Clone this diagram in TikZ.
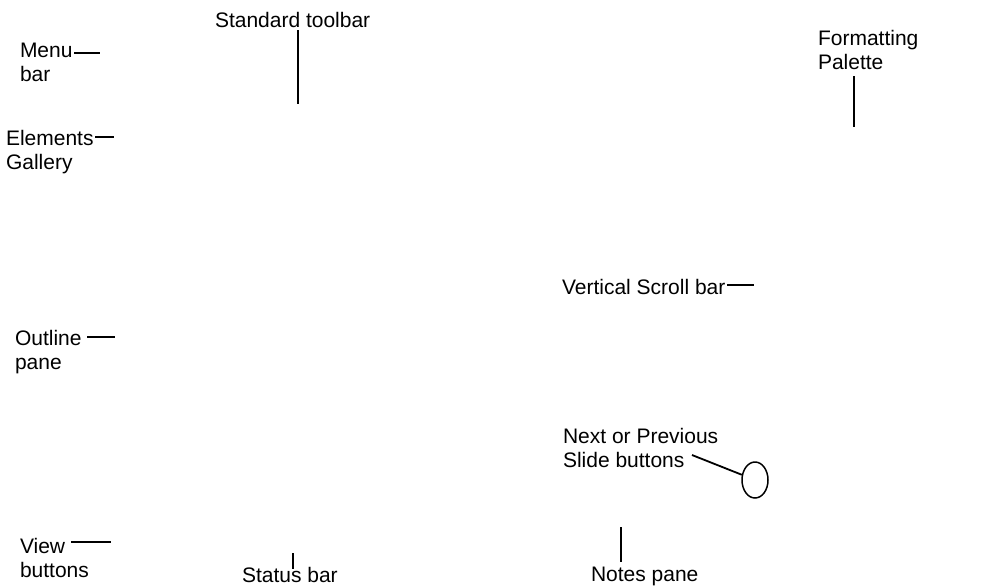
\documentclass[tikz,border=0pt]{standalone}
\usepackage{fontspec}
\setmainfont{Liberation Sans}
\usetikzlibrary{shapes.geometric}
\begin{document}
\begin{tikzpicture}[x=1pt,y=-1pt,
  lbl/.style={anchor=north west,inner sep=0pt,outer sep=0pt,align=left,font=\fontsize{21pt}{24pt}\selectfont},
  lead/.style={line width=1.8pt,black}]
\useasboundingbox (0,0) rectangle (1001,587);
% labels
\node[lbl] (std) at (215,12) {Standard toolbar};
\node[lbl] (fmt) at (818,30) {Formatting\\Palette};
\node[lbl] (menu) at (20,43) {Menu\\bar};
\node[lbl] (elem) at (6,130) {Elements\\Gallery};
\node[lbl] (vsb) at (562,279) {Vertical Scroll bar};
\node[lbl] (outl) at (15,330) {Outline\\pane};
\node[lbl] (next) at (563,428) {Next or Previous\\Slide buttons};
\node[lbl] (view) at (20,538) {View\\buttons};
\node[lbl] (stat) at (242,567) {Status bar};
\node[lbl] (notes) at (591,567) {Notes pane};
\node[ellipse,draw,line width=1.5pt,minimum width=26pt,minimum height=36pt,inner sep=0pt] (btn) at (755,480) {};
% leader coordinates
\coordinate (stdA) at (298,30); \coordinate (stdB) at (298,104);
\coordinate (fmtA) at (854,76); \coordinate (fmtB) at (854,127);
\coordinate (menuA) at (74,53); \coordinate (menuB) at (100,53);
\coordinate (elemA) at (95,137); \coordinate (elemB) at (114,137);
\coordinate (vsbA) at (727,285); \coordinate (vsbB) at (754,285);
\coordinate (outlA) at (87,337); \coordinate (outlB) at (115,337);
\coordinate (nextA) at (692,455);
\coordinate (viewA) at (71,542); \coordinate (viewB) at (111,542);
\coordinate (statA) at (293,553); \coordinate (statB) at (293,569);
\coordinate (notesA) at (621,527); \coordinate (notesB) at (621,562);
% leaders
\draw[lead] (stdA) -- (stdB);
\draw[lead] (fmtA) -- (fmtB);
\draw[lead] (menuA) -- (menuB);
\draw[lead] (elemA) -- (elemB);
\draw[lead] (vsbA) -- (vsbB);
\draw[lead] (outlA) -- (outlB);
\draw[lead] (nextA) -- (btn);
\draw[lead] (viewA) -- (viewB);
\draw[lead] (statA) -- (statB);
\draw[lead] (notesA) -- (notesB);
\end{tikzpicture}
\end{document}
